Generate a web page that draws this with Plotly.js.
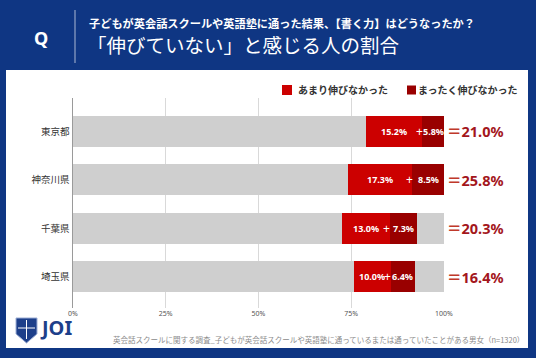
<!DOCTYPE html>
<html>
<head>
<meta charset="utf-8">
<script src="https://cdn.plot.ly/plotly-3.0.1.min.js"></script>
<style>
  html, body { margin: 0; padding: 0; background: #0f3683; }
  #chart { width: 536px; height: 358px; }
</style>
</head>
<body>
<div id="chart"></div>
<script>
// ---- data ----
const categories = ['東京都', '神奈川県', '千葉県', '埼玉県'];
const otherBefore = [79.0, 74.2, 72.4, 75.7];   // grey segment before
const littleGrowth = [15.2, 17.3, 13.0, 10.0];   // あまり伸びなかった
const noGrowth = [5.8, 8.5, 7.3, 6.4];           // まったく伸びなかった
const otherAfter = [0, 0, 7.3, 7.9];             // grey segment after
const totals = [21.0, 25.8, 20.3, 16.4];
const xTickVals = [0, 25, 50, 75, 100];
const xTickText = ['0%', '25%', '50%', '75%', '100%'];
const seriesNames = ['あまり伸びなかった', 'まったく伸びなかった'];
const headerQ = 'Q';
const subTitle = '子どもが英会話スクールや英語塾に通った結果、【書く力】はどうなったか？';
const mainTitle = '「伸びていない」と感じる人の割合';
const footerNote = '英会話スクールに関する調査_子どもが英会話スクールや英語塾に通っているまたは通っていたことがある男女（n=1320）';
const logoText = 'JOI';

// ---- layout geometry ----
const W = 536, H = 358;
const M = {l: 73, r: 92, t: 98, b: 50, autoexpand: false};
const PW = W - M.l - M.r, PH = H - M.t - M.b;
const fx = x => (x - M.l) / PW;
const fy = y => (H - M.b - y) / PH;

const NAVY = '#0f3683';
const GREY = '#cfcfcf';
const RED = '#cc0000';
const DARK = '#990000';
const JP = '"Noto Sans CJK JP", "Noto Sans", sans-serif';
const NUM = '"Noto Sans", "Noto Sans CJK JP", sans-serif';

const traces = [
  {type: 'bar', orientation: 'h', y: categories, x: otherBefore, marker: {color: GREY}, showlegend: false, hoverinfo: 'skip'},
  {type: 'bar', orientation: 'h', y: categories, x: littleGrowth, name: seriesNames[0], marker: {color: RED}, showlegend: false},
  {type: 'bar', orientation: 'h', y: categories, x: noGrowth, name: seriesNames[1], marker: {color: DARK}, showlegend: false},
  {type: 'bar', orientation: 'h', y: categories, x: otherAfter, marker: {color: GREY}, showlegend: false, hoverinfo: 'skip'}
];

const annotations = [];
categories.forEach((c, i) => {
  const start = otherBefore[i];
  annotations.push({x: start + littleGrowth[i] / 2, y: c, xref: 'x', yref: 'y', xanchor: 'center', yanchor: 'middle',
    text: littleGrowth[i].toFixed(1) + '%', showarrow: false, font: {family: NUM, size: 9, color: '#ffffff', weight: 'bold'}});
  annotations.push({x: start + littleGrowth[i], y: c, xref: 'x', yref: 'y', xanchor: 'center', yanchor: 'middle',
    text: '+', xshift: -3, showarrow: false, font: {family: NUM, size: 12, color: '#ffffff'}});
  annotations.push({x: start + littleGrowth[i] + noGrowth[i] / 2, y: c, xref: 'x', yref: 'y', xanchor: 'center', yanchor: 'middle',
    text: noGrowth[i].toFixed(1) + '%', showarrow: false, font: {family: NUM, size: 9, color: '#ffffff', weight: 'bold'}});
  annotations.push({x: 100, y: c, xref: 'x', yref: 'y', xanchor: 'left', yanchor: 'middle', xshift: 1,
    text: '<span style="color:#c0392b">＝</span>' + totals[i].toFixed(1) + '%',
    showarrow: false, font: {family: NUM, size: 14.5, color: '#a3161c', weight: 'bold'}});
});
function paperText(x, y, text, font, xanchor) {
  annotations.push({xref: 'paper', yref: 'paper', x: fx(x), y: fy(y), xanchor: xanchor || 'left', yanchor: 'middle',
    text: text, showarrow: false, font: font, borderpad: 0});
}
// header
paperText(41, 38.5, headerQ, {family: NUM, size: 18, color: '#ffffff', weight: 'bold'}, 'center');
paperText(88, 23, subTitle, {family: JP, size: 11.2, color: '#ffffff', weight: 'bold'});
paperText(86, 44, mainTitle, {family: JP, size: 19.5, color: '#ffffff'});
// legend
paperText(297, 90, seriesNames[0], {family: JP, size: 10, color: '#333333', weight: 'bold'});
paperText(417, 90, seriesNames[1], {family: JP, size: 10, color: '#333333', weight: 'bold'});
// footer
paperText(525, 339, footerNote, {family: JP, size: 7.5, color: '#8a8a8a'}, 'right');
paperText(39, 327, logoText, {family: NUM, size: 20, color: '#1d3f8a', weight: 'bold'});

function pathFromPx(pts) {
  return pts.map((p, i) => (i ? 'L' : 'M') + fx(p[0]).toFixed(4) + ',' + fy(p[1]).toFixed(4)).join(' ') + ' Z';
}
function pxRect(x0, y0, x1, y1, color) {
  return {type: 'rect', xref: 'paper', yref: 'paper', x0: fx(x0), x1: fx(x1), y0: fy(y1), y1: fy(y0), fillcolor: color, line: {width: 0}};
}

const shapes = [
  Object.assign(pxRect(6, 70, 528, 348, '#ffffff'), {layer: 'below'}),
  {type: 'line', xref: 'paper', yref: 'paper', x0: fx(75), x1: fx(75), y0: fy(10), y1: fy(63), line: {color: 'rgba(255,255,255,0.65)', width: 1}},
  // legend swatches
  pxRect(282, 85, 292, 95, RED),
  pxRect(407, 85.5, 416, 94.5, DARK),
  // logo shield
  {type: 'path', xref: 'paper', yref: 'paper', path: pathFromPx([[16, 318], [37, 318], [37, 334], [26.5, 343], [16, 334]]),
    fillcolor: '#1d3f8a', line: {color: '#9fb0d6', width: 1}},
  {type: 'line', xref: 'paper', yref: 'paper', x0: fx(26.5), x1: fx(26.5), y0: fy(320), y1: fy(339), line: {color: '#ffffff', width: 1}},
  {type: 'line', xref: 'paper', yref: 'paper', x0: fx(18), x1: fx(35), y0: fy(328), y1: fy(328), line: {color: '#ffffff', width: 1}}
];

const layout = {
  width: W, height: H,
  margin: M,
  paper_bgcolor: NAVY,
  plot_bgcolor: '#ffffff',
  barmode: 'stack',
  bargap: 0.36,
  showlegend: false,
  xaxis: {range: [0, 100], tickvals: xTickVals, ticktext: xTickText, showgrid: true, gridcolor: '#d9d9d9', gridwidth: 1,
    zeroline: false, showline: false, ticks: '', tickfont: {family: NUM, size: 7, color: '#555555'}, fixedrange: true},
  yaxis: {type: 'category', categoryorder: 'array', categoryarray: categories, range: [3.64, -0.69], autorange: false,
    showline: true, linecolor: '#9a9a9a', linewidth: 1.5, showgrid: false, zeroline: false, ticks: '',
    tickfont: {family: JP, size: 9.5, color: '#333333'}, fixedrange: true},
  annotations: annotations,
  shapes: shapes
};

Plotly.newPlot('chart', traces, layout, {displayModeBar: false, staticPlot: true});
</script>
</body>
</html>
